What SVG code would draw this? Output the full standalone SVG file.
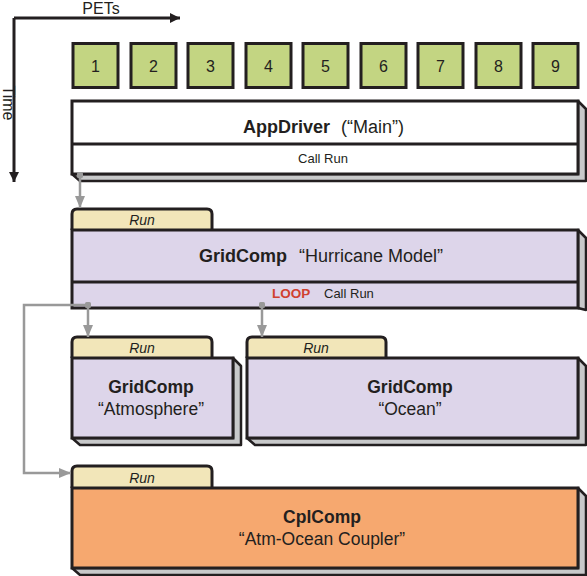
<svg xmlns="http://www.w3.org/2000/svg" width="587" height="576" viewBox="0 0 587 576">
<style>
  text { font-family: "Liberation Sans", Arial, sans-serif; fill: #231f20; }
  .pet { fill: #c3d582; stroke: #231f20; stroke-width: 3; }
  .petn { font-size: 16px; text-anchor: middle; }
  .box { stroke: #231f20; stroke-width: 3; }
  .side { fill: #c8c9ca; stroke: #231f20; stroke-width: 2.5; stroke-linejoin: round; }
  .lav { fill: #ddd5ea; }
  .tab { fill: #f2e6b9; stroke: #231f20; stroke-width: 3; }
  .tabt { font-size: 14px; font-style: italic; text-anchor: middle; }
  .b { font-weight: bold; }
  .t17 { font-size: 17.5px; text-anchor: middle; }
  .small { font-size: 13px; }
  .axis { stroke: #231f20; stroke-width: 3; fill: none; }
  .conn { stroke: #999999; stroke-width: 2.5; fill: none; }
</style>
<defs>
  <marker id="ah" viewBox="0 0 10 10" refX="10" refY="5" markerWidth="10" markerHeight="10" markerUnits="userSpaceOnUse" orient="auto">
    <path d="M0,0 L10,5 L0,10 z" fill="#231f20"/>
  </marker>
  <marker id="ga" viewBox="0 0 12 10" refX="12" refY="5" markerWidth="12" markerHeight="10" markerUnits="userSpaceOnUse" orient="auto">
    <path d="M0,0 L12,5 L0,10 z" fill="#999999"/>
  </marker>
  <marker id="gd" viewBox="0 0 6 6" refX="3" refY="3" markerWidth="6" markerHeight="6" markerUnits="userSpaceOnUse">
    <rect x="0" y="0" width="6" height="6" rx="1.5" fill="#999999"/>
  </marker>
</defs>

<g id="axes">
  <path class="axis" d="M14,18 H180" marker-end="url(#ah)"/>
  <path class="axis" d="M14,18 V182" marker-end="url(#ah)"/>
  <text x="101" y="14" font-size="16" text-anchor="middle">PETs</text>
  <text x="0" y="106" font-size="16" text-anchor="middle" transform="rotate(90 3 106)">Time</text>
</g>

<g id="pets">
  <rect class="pet" x="73" y="43.5" width="45" height="44"/><text class="petn" x="95.5" y="72">1</text>
  <rect class="pet" x="131" y="43.5" width="45" height="44"/><text class="petn" x="153.5" y="72">2</text>
  <rect class="pet" x="188" y="43.5" width="45" height="44"/><text class="petn" x="210.5" y="72">3</text>
  <rect class="pet" x="246" y="43.5" width="45" height="44"/><text class="petn" x="268.5" y="72">4</text>
  <rect class="pet" x="303" y="43.5" width="45" height="44"/><text class="petn" x="325.5" y="72">5</text>
  <rect class="pet" x="361" y="43.5" width="45" height="44"/><text class="petn" x="383.5" y="72">6</text>
  <rect class="pet" x="418" y="43.5" width="45" height="44"/><text class="petn" x="440.5" y="72">7</text>
  <rect class="pet" x="476" y="43.5" width="45" height="44"/><text class="petn" x="498.5" y="72">8</text>
  <rect class="pet" x="533" y="43.5" width="45" height="44"/><text class="petn" x="555.5" y="72">9</text>
</g>

<g id="appdriver">
  <path class="side" d="M578,101 L586,109 L586,181 L80,181 L72,174 L578,174 Z"/>
  <rect class="box" x="72" y="101" width="506" height="73" fill="#ffffff"/>
  <line x1="72" y1="144" x2="578" y2="144" stroke="#231f20" stroke-width="3"/>
  <text x="323.5" y="133" font-size="18" text-anchor="middle"><tspan class="b">AppDriver</tspan><tspan dx="6"> (“Main”)</tspan></text>
  <text class="small" x="323" y="163" text-anchor="middle">Call Run</text>
</g>

<g id="hurricane">
  <path class="tab" d="M72,230 V214 Q72,209 77,209 H207 Q212,209 212,214 V230"/>
  <text class="tabt" x="142" y="225">Run</text>
  <path class="side" d="M578,230 L586,238 L586,310 L578,308 Z"/>
  <rect class="box lav" x="72" y="230" width="506" height="78"/>
  <line x1="72" y1="282" x2="578" y2="282" stroke="#231f20" stroke-width="3"/>
  <text x="321" y="262" font-size="18" text-anchor="middle"><tspan class="b">GridComp</tspan><tspan dx="7"> “Hurricane Model”</tspan></text>
  <text class="b" x="272" y="298" font-size="13.5" style="fill:#d0402f">LOOP</text>
  <text class="small" x="324" y="298">Call Run</text>
</g>

<g id="atmosphere">
  <path class="tab" d="M72,358 V342 Q72,337 77,337 H207 Q212,337 212,342 V358"/>
  <text class="tabt" x="142" y="353">Run</text>
  <path class="side" d="M233,358 L241,366 L241,445 L80,445 L72,438 L233,438 Z"/>
  <rect class="box lav" x="72" y="358" width="161" height="80"/>
  <text class="t17 b" x="151" y="393">GridComp</text>
  <text class="t17" x="151" y="415">“Atmosphere”</text>
</g>

<g id="ocean">
  <path class="tab" d="M247,358 V342 Q247,337 252,337 H381 Q386,337 386,342 V358"/>
  <text class="tabt" x="316" y="353">Run</text>
  <path class="side" d="M578,358 L586,366 L586,445 L255,445 L247,438 L578,438 Z"/>
  <rect class="box lav" x="247" y="358" width="331" height="80"/>
  <text class="t17 b" x="410" y="393">GridComp</text>
  <text class="t17" x="410" y="415">“Ocean”</text>
</g>

<g id="cplcomp">
  <path class="tab" d="M72,488 V471 Q72,466 77,466 H207 Q212,466 212,471 V488"/>
  <text class="tabt" x="142" y="483">Run</text>
  <path class="side" d="M578,488 L586,496 L586,575 L80,575 L72,568 L578,568 Z"/>
  <rect class="box" x="72" y="488" width="506" height="80" fill="#f6a86f"/>
  <text class="t17 b" x="322" y="523">CplComp</text>
  <text class="t17" x="322" y="545">“Atm-Ocean Coupler”</text>
</g>

<g id="connectors">
  <path class="conn" d="M80,175 V208" marker-start="url(#gd)" marker-end="url(#ga)"/>
  <path class="conn" d="M88,305 V337" marker-start="url(#gd)" marker-end="url(#ga)"/>
  <path class="conn" d="M88,305 H24 V473 H71" marker-end="url(#ga)"/>
  <path class="conn" d="M262,305 V337" marker-start="url(#gd)" marker-end="url(#ga)"/>
</g>
</svg>
